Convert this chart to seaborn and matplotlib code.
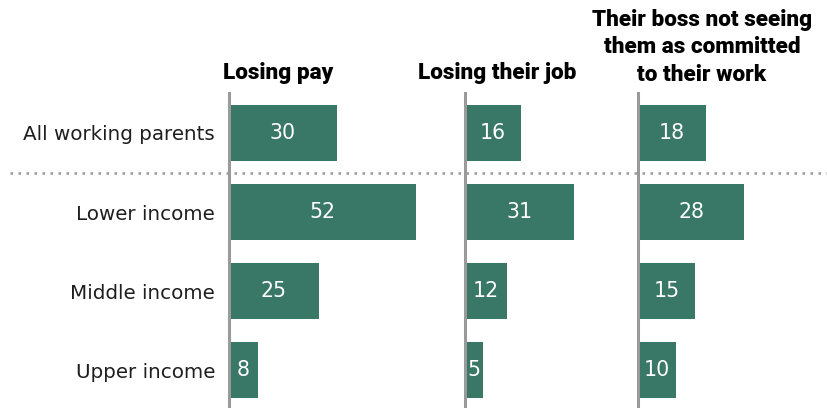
import matplotlib
matplotlib.use("Agg")
import matplotlib.pyplot as plt
from matplotlib.lines import Line2D
import seaborn as sns
import pandas as pd

groups = ["All working parents", "Lower income", "Middle income", "Upper income"]
losing_pay = [30, 52, 25, 8]
losing_job = [16, 31, 12, 5]
boss_not_committed = [18, 28, 15, 10]
panel_titles = ["Losing pay", "Losing their job",
                "Their boss not seeing\nthem as committed\nto their work"]

BAR = "#397766"
SPINE = "#9a9a9a"
W, H = 828, 408

sns.set_theme(style="white")
plt.rcParams["font.family"] = ["DejaVu Sans"]

fig = plt.figure(figsize=(W / 100, H / 100), dpi=100)

# axes placement in pixels: left edge, width, pixels per percentage point
panels = [(229, 200, 3.6), (465, 165, 3.5), (638, 190, 3.8)]
top_px, bottom_px = 93, 408
series = [losing_pay, losing_job, boss_not_committed]
title_centers = [278, 497, 702]
title_baselines = [79, 79, 81]

for i, ((x0, w, ppu), vals) in enumerate(zip(panels, series)):
    ax = fig.add_axes([x0 / W, 1 - bottom_px / H, w / W, (bottom_px - top_px) / H])
    df = pd.DataFrame({"group": groups, "value": vals})
    sns.barplot(data=df, y="group", x="value", orient="h", color=BAR,
                saturation=1, width=0.71, ax=ax, edgecolor="none")
    ax.set_xlim(0, w / ppu)
    ax.set_ylim(3.48, -0.506)
    for p, v in zip(ax.patches, vals):
        ax.text(v / 2, p.get_y() + p.get_height() / 2, str(v), color="white",
                ha="center", va="center", fontsize=14.8)
    for s in ["top", "right", "bottom"]:
        ax.spines[s].set_visible(False)
    ax.spines["left"].set_color(SPINE)
    ax.spines["left"].set_linewidth(2.2)
    ax.set_xticks([])
    ax.set_xlabel("")
    ax.set_ylabel("")
    if i == 0:
        ax.tick_params(axis="y", length=0, pad=10, labelsize=14.3, labelcolor="#1e1e1e")
    else:
        ax.set_yticklabels([])
        ax.tick_params(axis="y", length=0)
    ax.patch.set_alpha(0)
    fig.text(title_centers[i] / W, 1 - title_baselines[i] / H, panel_titles[i],
             ha="center", va="baseline", fontsize=16.2, fontweight=900,
             family="Roboto", linespacing=1.33, color="black")

# dotted separator between total and income groups
fig.add_artist(Line2D([10 / W, 1.0], [1 - 173 / H, 1 - 173 / H], transform=fig.transFigure,
                      color=SPINE, linewidth=1.8, linestyle=(0, (1, 2.2)), zorder=0))

fig.savefig("out.png", dpi=100)
